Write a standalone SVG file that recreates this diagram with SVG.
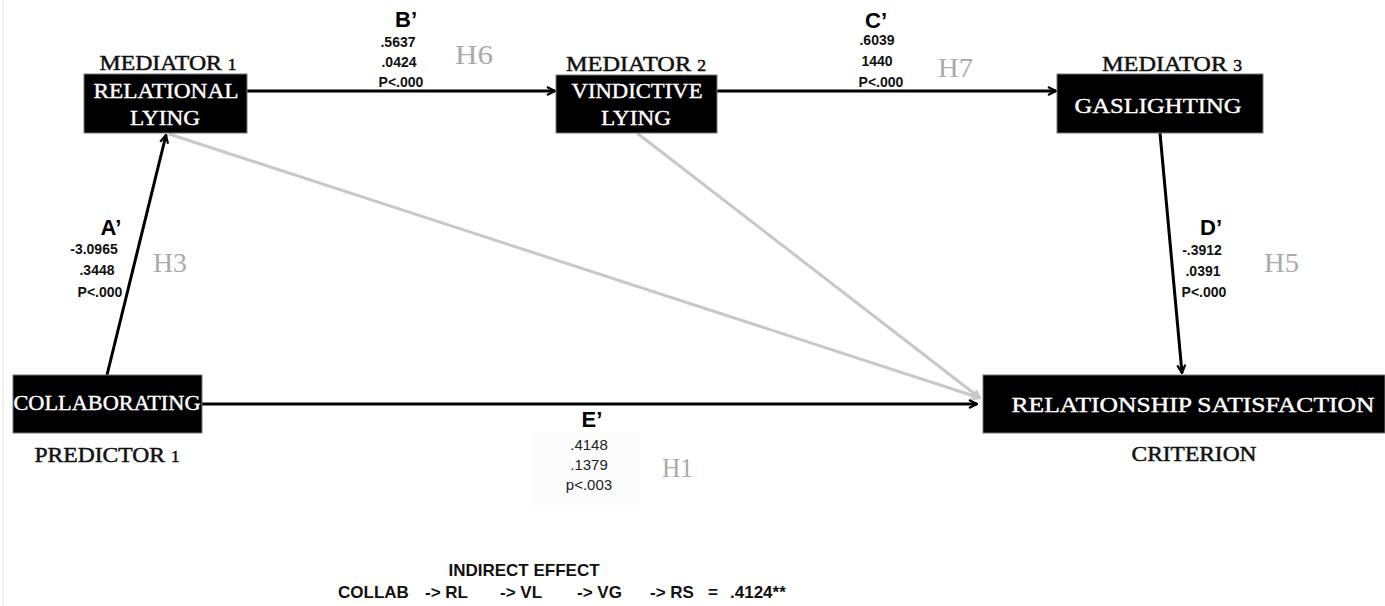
<svg xmlns="http://www.w3.org/2000/svg" width="1385" height="606" viewBox="0 0 1385 606">
  <defs>
    <marker id="arr" viewBox="0 0 10 10" refX="9" refY="5" markerWidth="10" markerHeight="10" markerUnits="userSpaceOnUse" orient="auto">
      <path d="M1,1 L9,5 L1,9" fill="none" stroke="#000" stroke-width="2.2"/>
    </marker>
    <marker id="arrg" viewBox="0 0 10 10" refX="9" refY="5" markerWidth="10" markerHeight="10" markerUnits="userSpaceOnUse" orient="auto">
      <path d="M1,1 L9,5 L1,9" fill="none" stroke="#c8c8c8" stroke-width="2.2"/>
    </marker>
    <style>
      .box { fill: #000; stroke: #777; stroke-width: 1; }
      .bl { font-family: "Liberation Serif", "DejaVu Serif", serif; font-size: 22px; fill: #fff; stroke: #fff; stroke-width: 0.4; text-anchor: middle; }
      .lb { font-family: "Liberation Serif", "DejaVu Serif", serif; font-size: 22px; fill: #111; stroke: #111; stroke-width: 0.5; text-anchor: middle; }
      .sm { font-size: 16px; }
      .hl { font-family: "Liberation Serif", "DejaVu Serif", serif; font-size: 28px; fill: #aaa; }
      .pl { font-family: "Liberation Sans", Arial, sans-serif; font-size: 22px; font-weight: bold; fill: #000; text-anchor: middle; }
      .nv { font-family: "Liberation Sans", Arial, sans-serif; font-size: 14px; font-weight: bold; fill: #111; text-anchor: middle; }
      .nr { font-family: "Liberation Sans", Arial, sans-serif; font-size: 15px; fill: #222; text-anchor: middle; }
      .ie { font-family: "Liberation Sans", Arial, sans-serif; font-size: 17px; font-weight: bold; fill: #111; }
      .ln { stroke: #000; stroke-width: 3; fill: none; }
      .gl { stroke: #c8c8c8; stroke-width: 3; fill: none; }
    </style>
  </defs>
  <rect x="0" y="0" width="1385" height="606" fill="#fff"/>
  <line x1="3" y1="0" x2="3" y2="606" stroke="#e6e6e6" stroke-width="1"/>
  <rect x="533" y="432" width="107" height="78" fill="#fcfcfc"/>

  <g id="connectors">
    <line class="gl" x1="169" y1="134" x2="980" y2="398" marker-end="url(#arrg)"/>
    <line class="gl" x1="637" y1="133" x2="980" y2="398" marker-end="url(#arrg)"/>
    <line class="ln" x1="107" y1="375" x2="166" y2="135" marker-end="url(#arr)"/>
    <line class="ln" x1="247" y1="91" x2="555" y2="91" marker-end="url(#arr)"/>
    <line class="ln" x1="717" y1="91" x2="1056" y2="91" marker-end="url(#arr)"/>
    <line class="ln" x1="1160" y1="133" x2="1182" y2="373" marker-end="url(#arr)"/>
    <line class="ln" x1="202" y1="404" x2="977" y2="404" stroke-width="4" marker-end="url(#arr)"/>
  </g>

  <g id="node-relational-lying">
    <rect class="box" x="84" y="74" width="163" height="59"/>
    <text class="lb" x="168" y="70" textLength="137" lengthAdjust="spacingAndGlyphs">MEDIATOR <tspan class="sm">1</tspan></text>
    <text class="bl" x="166" y="98" textLength="145" lengthAdjust="spacingAndGlyphs">RELATIONAL</text>
    <text class="bl" x="165" y="125" textLength="70" lengthAdjust="spacingAndGlyphs">LYING</text>
  </g>

  <g id="node-vindictive-lying">
    <rect class="box" x="556" y="75" width="161" height="58"/>
    <text class="lb" x="636" y="71" textLength="140" lengthAdjust="spacingAndGlyphs">MEDIATOR <tspan class="sm">2</tspan></text>
    <text class="bl" x="637" y="98" textLength="131" lengthAdjust="spacingAndGlyphs">VINDICTIVE</text>
    <text class="bl" x="636" y="125" textLength="70" lengthAdjust="spacingAndGlyphs">LYING</text>
  </g>

  <g id="node-gaslighting">
    <rect class="box" x="1057" y="74" width="206" height="59"/>
    <text class="lb" x="1172" y="71" textLength="140" lengthAdjust="spacingAndGlyphs">MEDIATOR <tspan class="sm">3</tspan></text>
    <text class="bl" x="1158" y="113" textLength="167" lengthAdjust="spacingAndGlyphs">GASLIGHTING</text>
  </g>

  <g id="node-collaborating">
    <rect class="box" x="13" y="375" width="189" height="58"/>
    <text class="bl" x="107" y="410" textLength="187" lengthAdjust="spacingAndGlyphs">COLLABORATING</text>
    <text class="lb" x="107" y="462" textLength="145" lengthAdjust="spacingAndGlyphs">PREDICTOR <tspan class="sm">1</tspan></text>
  </g>

  <g id="node-relationship-satisfaction">
    <rect class="box" x="983" y="375" width="402" height="58"/>
    <text class="bl" x="1193" y="412" textLength="363" lengthAdjust="spacingAndGlyphs">RELATIONSHIP SATISFACTION</text>
    <text class="lb" x="1194" y="461" textLength="125" lengthAdjust="spacingAndGlyphs">CRITERION</text>
  </g>

  <g id="labels">
    <text class="pl" x="406" y="27">B’</text>
    <text class="nv" x="398" y="47">.5637</text>
    <text class="nv" x="399" y="67">.0424</text>
    <text class="nv" x="401" y="87">P&lt;.000</text>
    <text class="hl" x="455" y="64" textLength="38" lengthAdjust="spacingAndGlyphs">H6</text>

    <text class="pl" x="876" y="28">C’</text>
    <text class="nv" x="877" y="45">.6039</text>
    <text class="nv" x="877" y="66">1440</text>
    <text class="nv" x="881" y="87">P&lt;.000</text>
    <text class="hl" x="938" y="77" textLength="35" lengthAdjust="spacingAndGlyphs">H7</text>

    <text class="pl" x="111" y="235">A’</text>
    <text class="nv" x="94" y="254">-3.0965</text>
    <text class="nv" x="97" y="275">.3448</text>
    <text class="nv" x="100" y="297">P&lt;.000</text>
    <text class="hl" x="153" y="272" textLength="34" lengthAdjust="spacingAndGlyphs">H3</text>

    <text class="pl" x="1211" y="235">D’</text>
    <text class="nv" x="1202" y="255">-.3912</text>
    <text class="nv" x="1203" y="276">.0391</text>
    <text class="nv" x="1204" y="297">P&lt;.000</text>
    <text class="hl" x="1264" y="272" textLength="35" lengthAdjust="spacingAndGlyphs">H5</text>

    <text class="pl" x="592" y="427">E’</text>
    <text class="nr" x="589" y="450">.4148</text>
    <text class="nr" x="589" y="470">.1379</text>
    <text class="nr" x="589" y="490">p&lt;.003</text>
    <text class="hl" x="662" y="477" textLength="31" lengthAdjust="spacingAndGlyphs">H1</text>
  </g>

  <g id="indirect-effect">
    <text class="ie" x="524" y="576" text-anchor="middle">INDIRECT EFFECT</text>
    <text class="ie" x="338" y="598">COLLAB</text>
    <text class="ie" x="425" y="598">-&gt; RL</text>
    <text class="ie" x="500" y="598">-&gt; VL</text>
    <text class="ie" x="577" y="598">-&gt; VG</text>
    <text class="ie" x="650" y="598">-&gt; RS</text>
    <text class="ie" x="708" y="598">=</text>
    <text class="ie" x="730" y="598">.4124**</text>
  </g>
</svg>
